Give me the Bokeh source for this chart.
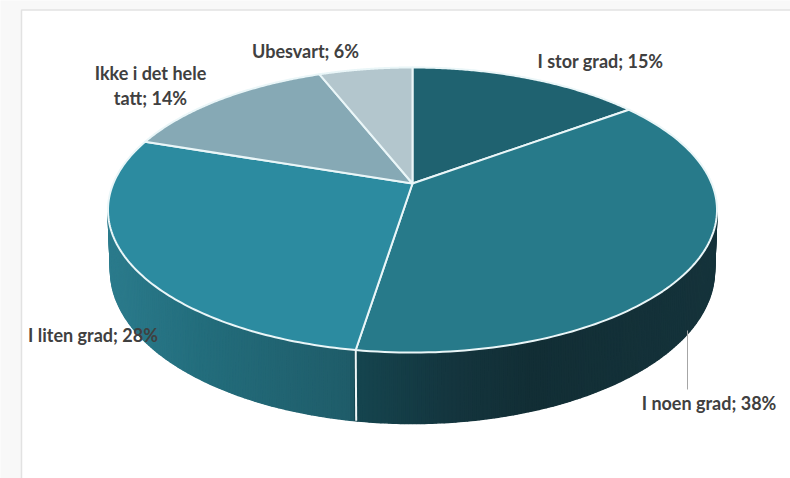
import numpy as np
from bokeh.plotting import figure
from bokeh.embed import file_html
from bokeh.resources import INLINE
from bokeh.core.properties import value

categories = ["I stor grad", "I noen grad", "I liten grad", "Ikke i det hele tatt", "Ubesvart"]
values = [15, 38, 28, 14, 6]
top_colors = ["#1f6270", "#277a8a", "#2c8ba0", "#86a9b5", "#b3c6cd"]
label_texts = [f"{c}; {v}%" for c, v in zip(categories, values)]
label_texts[3] = "Ikke i det hele\ntatt; 14%"

# --- projection of the tilted disc onto the page (page pixel coordinates) ---
APEX_X, APEX_Y = 412.0, 183.0
A, S, K = 299.2, 137.6, 0.186
BOT_RX, BOT_CY, BOT_RY = 302.0, 270.0, 153.0


def project(theta):
    d = 1 + K * np.cos(theta)
    return APEX_X + A * np.sin(theta) / d, APEX_Y - S * np.cos(theta) / d


p = figure(width=790, height=478, x_range=(0, 790), y_range=(478, 0),
           output_backend="svg", toolbar_location=None, min_border=0,
           outline_line_color=None, background_fill_color="#f8f8f8",
           border_fill_color="#f8f8f8")
p.axis.visible = False
p.grid.visible = False

# chart frame
p.quad(left=[21], right=[800], top=[9.5], bottom=[490], fill_color="#ffffff",
       line_color="#e2e2e2", line_width=1.5)

# side wall
ell_rx = A / np.sqrt(1 - K**2)
ell_ry = S / (1 - K**2)
ell_cy = APEX_Y + S * K / (1 - K**2)

fracs = np.cumsum(values) / sum(values)
split_x, split_y = project(2 * np.pi * fracs[1])
split_phi = np.arccos((split_x - APEX_X) / ell_rx)

stop_x = [107, 200, 350, 354, 450, 530, 716]
stop_c = [(0x2b, 0x7b, 0x8c), (0x23, 0x6d, 0x7c), (0x1f, 0x5c, 0x69),
          (0x15, 0x45, 0x4f), (0x14, 0x35, 0x3e), (0x12, 0x2e, 0x35), (0x15, 0x33, 0x3b)]
phis = np.linspace(0, np.pi, 241)
xs, ys, cs = [], [], []
for f0, f1 in zip(phis[:-1], phis[1:]):
    ff = np.array([f0, f1])
    tx = APEX_X + ell_rx * np.cos(ff)
    ty = ell_cy + ell_ry * np.sin(ff)
    bx = APEX_X + BOT_RX * np.cos(ff)
    by = BOT_CY + BOT_RY * np.sin(ff)
    xs.append([tx[0], tx[1], bx[1], bx[0]])
    ys.append([ty[0], ty[1], by[1], by[0]])
    mid = tx.mean()
    rgb = [int(round(np.interp(mid, stop_x, [c[i] for c in stop_c]))) for i in range(3)]
    cs.append("#%02x%02x%02x" % tuple(rgb))
p.patches(xs, ys, fill_color=cs, line_color=cs, line_width=1.5)

# white seam on the wall
seam_bx = APEX_X + BOT_RX * np.cos(split_phi)
seam_by = BOT_CY + BOT_RY * np.sin(split_phi)
p.line([split_x, seam_bx], [split_y, seam_by], line_color="#eef6f7", line_width=2)

# leader line
p.line([687, 687], [330, 389], line_color="#a6a6a6", line_width=1)

# top face
starts = np.concatenate([[0], fracs[:-1]]) * 2 * np.pi
ends = fracs * 2 * np.pi
wx, wy = [], []
for a0, a1 in zip(starts, ends):
    t = np.linspace(a0, a1, 120)
    x, y = project(t)
    wx.append(np.concatenate([[APEX_X], x]))
    wy.append(np.concatenate([[APEX_Y], y]))
p.patches(wx, wy, fill_color=top_colors, line_color="#eaf6f8", line_width=2, line_join="round")

# labels
lx = [600, 708.5, 92.5, 150, 305]
ly = [60, 402, 334, 85, 50]
p.text(lx, ly, text=label_texts, text_font=value("Lato"), text_font_style="bold",
       text_font_size="18px", text_color="#404040", text_align="center",
       text_baseline="middle", text_line_height=1.17)

open("out.html", "w").write(file_html(p, INLINE))
